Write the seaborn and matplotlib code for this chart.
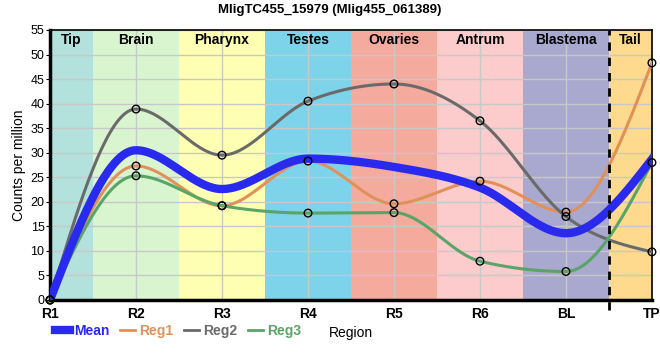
import numpy as np
import matplotlib
matplotlib.use("Agg")
import matplotlib.pyplot as plt
import seaborn as sns
import pandas as pd

# data
regions = ["R1", "R2", "R3", "R4", "R5", "R6", "BL", "TP"]
mean = [0, 30.5, 22.6, 28.8, 27.1, 22.9, 13.6, 28.7]
reg1 = [0, 27.3, 19.2, 28.3, 19.6, 24.2, 17.9, 48.3]
reg2 = [0, 38.9, 29.5, 40.5, 44.0, 36.5, 17.0, 9.8]
reg3 = [0, 25.3, 19.2, 17.7, 17.8, 7.9, 5.8, 28.0]

band_names = ["Tip", "Brain", "Pharynx", "Testes", "Ovaries", "Antrum", "Blastema", "Tail"]
band_edges = [0, 0.5, 1.5, 2.5, 3.5, 4.5, 5.5, 6.5, 7]
band_colors = ["#b3e2dd", "#d9f5d0", "#ffffb3", "#7dd4ea", "#f4ab9e", "#fccccc", "#a9a8ce", "#fdda8e"]


def monotone_curve(y, n=40):
    # monotone cubic (d3 monotoneX style) for drawing the smooth line
    y = np.asarray(y, dtype=float)
    x = np.arange(len(y), dtype=float)
    s = np.diff(y)
    t = np.zeros(len(y))
    for i in range(1, len(y) - 1):
        p = (s[i - 1] + s[i]) / 2
        t[i] = (np.sign(s[i - 1]) + np.sign(s[i])) * min(abs(s[i - 1]), abs(s[i]), 0.5 * abs(p))
    t[0] = (3 * s[0] - t[1]) / 2
    t[-1] = (3 * s[-1] - t[-2]) / 2
    xs, ys = [], []
    for i in range(len(y) - 1):
        u = np.linspace(0, 1, n, endpoint=(i == len(y) - 2))
        h00 = 2 * u**3 - 3 * u**2 + 1
        h10 = u**3 - 2 * u**2 + u
        h01 = -2 * u**3 + 3 * u**2
        h11 = u**3 - u**2
        xs.append(x[i] + u)
        ys.append(h00 * y[i] + h10 * t[i] + h01 * y[i + 1] + h11 * t[i + 1])
    return np.concatenate(xs), np.concatenate(ys)


plt.rcParams["font.family"] = ["Liberation Sans", "DejaVu Sans"]
fig = plt.figure(figsize=(6.6, 3.6), dpi=100)
ax = fig.add_axes([0.0758, 0.1667, 0.912, 0.75])

for i, name in enumerate(band_names):
    ax.axvspan(band_edges[i], band_edges[i + 1], color=band_colors[i], zorder=0, lw=0)
    ax.text((band_edges[i] + band_edges[i + 1]) / 2, 0.963, name, transform=ax.get_xaxis_transform(),
            ha="center", va="center", fontsize=10, fontweight="bold", zorder=5)

ax.set_axisbelow(True)
ax.grid(True, color="#c8c8c8", lw=1)

series = [("Reg1", reg1, "#e0915a", 2.2), ("Reg2", reg2, "#6a6a6a", 2.2),
          ("Reg3", reg3, "#5aa467", 2.2), ("Mean", mean, "#2a2aee", 6)]
x_idx = np.arange(len(regions))
for name, vals, col, lw in series:
    xs, ys = monotone_curve(vals)
    sns.lineplot(x=xs, y=ys, color=col, lw=lw, ax=ax, zorder=3, sort=False)
    if name != "Mean":
        ax.scatter(x_idx, vals, s=30, facecolors="none", edgecolors="black", lw=1, zorder=4, clip_on=False)

ax.axvline(6.5, ymin=-0.037, ymax=1, color="black", ls=(0, (3, 2.5)), lw=2, clip_on=False, zorder=4)

ax.set_xlim(0, 7)
ax.set_ylim(0, 55)
ax.set_yticks(np.arange(0, 56, 5))
ax.set_xticks(x_idx)
ax.set_xticklabels(regions, fontweight="bold", fontsize=10)
ax.tick_params(axis="y", labelsize=9, length=3, pad=1)
ax.tick_params(axis="x", length=0, pad=5)
ax.set_xlabel("Region", fontsize=10, labelpad=4)
ax.set_ylabel("Counts per million", fontsize=10, labelpad=3)
fig.text(0.5, 0.972, "MligTC455_15979 (Mlig455_061389)", ha="center", va="center",
         fontsize=9.5, fontweight="bold")

for side in ["left", "bottom"]:
    ax.spines[side].set_linewidth(2.5)
for side in ["top", "right"]:
    ax.spines[side].set_linewidth(1.2)

handles = [plt.Line2D([], [], color="#2a2aee", lw=6),
           plt.Line2D([], [], color="#e0915a", lw=2),
           plt.Line2D([], [], color="#6a6a6a", lw=2),
           plt.Line2D([], [], color="#5aa467", lw=2)]
leg = ax.legend(handles, ["Mean", "Reg1", "Reg2", "Reg3"], loc="center left", bbox_to_anchor=(0.008, -0.115),
                ncol=4, frameon=False, handlelength=1.1, handletextpad=0.3, columnspacing=0.75,
                borderpad=0, borderaxespad=0,
                labelcolor="linecolor", prop={"size": 10, "weight": "bold"})

fig.savefig("out.png", dpi=100)
